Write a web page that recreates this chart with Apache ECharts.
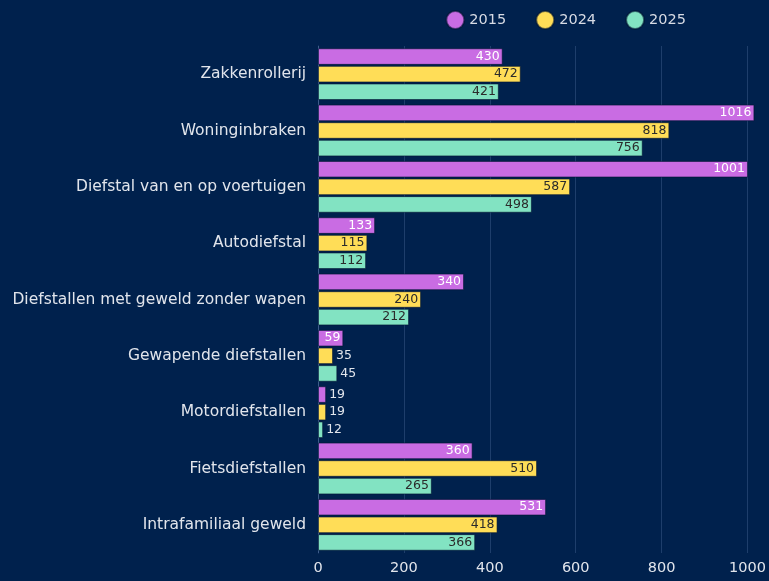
<!DOCTYPE html>
<html>
<head>
<meta charset="utf-8">
<script src="https://cdn.jsdelivr.net/npm/echarts@6/dist/echarts.min.js"></script>
<style>
  html, body { margin: 0; padding: 0; background: #00214d; }
  #ec { width: 769px; height: 581px; }
</style>
</head>
<body>
<div id="ec"></div>
<script>
const categories = [
  'Zakkenrollerij',
  'Woninginbraken',
  'Diefstal van en op voertuigen',
  'Autodiefstal',
  'Diefstallen met geweld zonder wapen',
  'Gewapende diefstallen',
  'Motordiefstallen',
  'Fietsdiefstallen',
  'Intrafamiliaal geweld'
]
const years = ['2015', '2024', '2025']
const values2015 = [430, 1016, 1001, 133, 340, 59, 19, 360, 531]
const values2024 = [472, 818, 587, 115, 240, 35, 19, 510, 418]
const values2025 = [421, 756, 498, 112, 212, 45, 12, 265, 366]
const xTicks = [0, 200, 400, 600, 800, 1000]

const colors = ['#c96ce3', '#ffdd57', '#82e3c2']
const insideText = ['#ffffff', '#2b2b2b', '#2b2b2b']
const font = '"DejaVu Sans", sans-serif'

function makeData(vals, idx) {
  return vals.map(v => {
    // short bars: put the number to the right of the bar
    const small = v < 50
    return {
      value: v,
      label: small
        ? { position: 'right', color: '#e1e5ec' }
        : { position: 'insideRight', color: insideText[idx] }
    }
  })
}

const chart = echarts.init(document.getElementById('ec'))
chart.setOption({
  backgroundColor: '#00214d',
  textStyle: { fontFamily: font },
  legend: {
    data: years,
    icon: 'circle',
    top: 5,
    right: 78,
    itemWidth: 18,
    itemHeight: 18,
    itemGap: 29,
    selectedMode: false,
    textStyle: { color: '#d7dbe4', fontSize: 14.5, fontFamily: font }
  },
  grid: {
    left: 318,
    right: 14,
    top: 46,
    bottom: 28
  },
  xAxis: {
    type: 'value',
    min: 0,
    max: 1016,
    interval: 200,
    axisLine: { show: false },
    axisTick: { show: false },
    splitLine: {
      show: true,
      showMaxLine: false,
      lineStyle: { color: 'rgba(120,150,200,0.25)', width: 1 }
    },
    axisLabel: {
      color: '#e1e5ec',
      fontSize: 14.5,
      fontFamily: font,
      margin: 8,
      formatter: v => String(v),
      customValues: xTicks
    }
  },
  yAxis: {
    type: 'category',
    data: categories,
    inverse: true,
    axisLine: { show: true, lineStyle: { color: 'rgba(120,150,200,0.35)' } },
    axisTick: { show: false },
    axisLabel: { color: '#e1e5ec', fontSize: 15.5, fontFamily: font, margin: 12 }
  },
  series: [values2015, values2024, values2025].map((vals, i) => ({
    name: years[i],
    type: 'bar',
    data: makeData(vals, i),
    barGap: '6%',
    barCategoryGap: '8%',
    itemStyle: {
      color: colors[i],
      borderColor: 'rgba(0,20,50,0.6)',
      borderWidth: 1
    },
    label: {
      show: true,
      fontSize: 12.5,
      fontFamily: font,
      distance: 3
    }
  }))
})
window.addEventListener('resize', () => chart.resize())
</script>
</body>
</html>
